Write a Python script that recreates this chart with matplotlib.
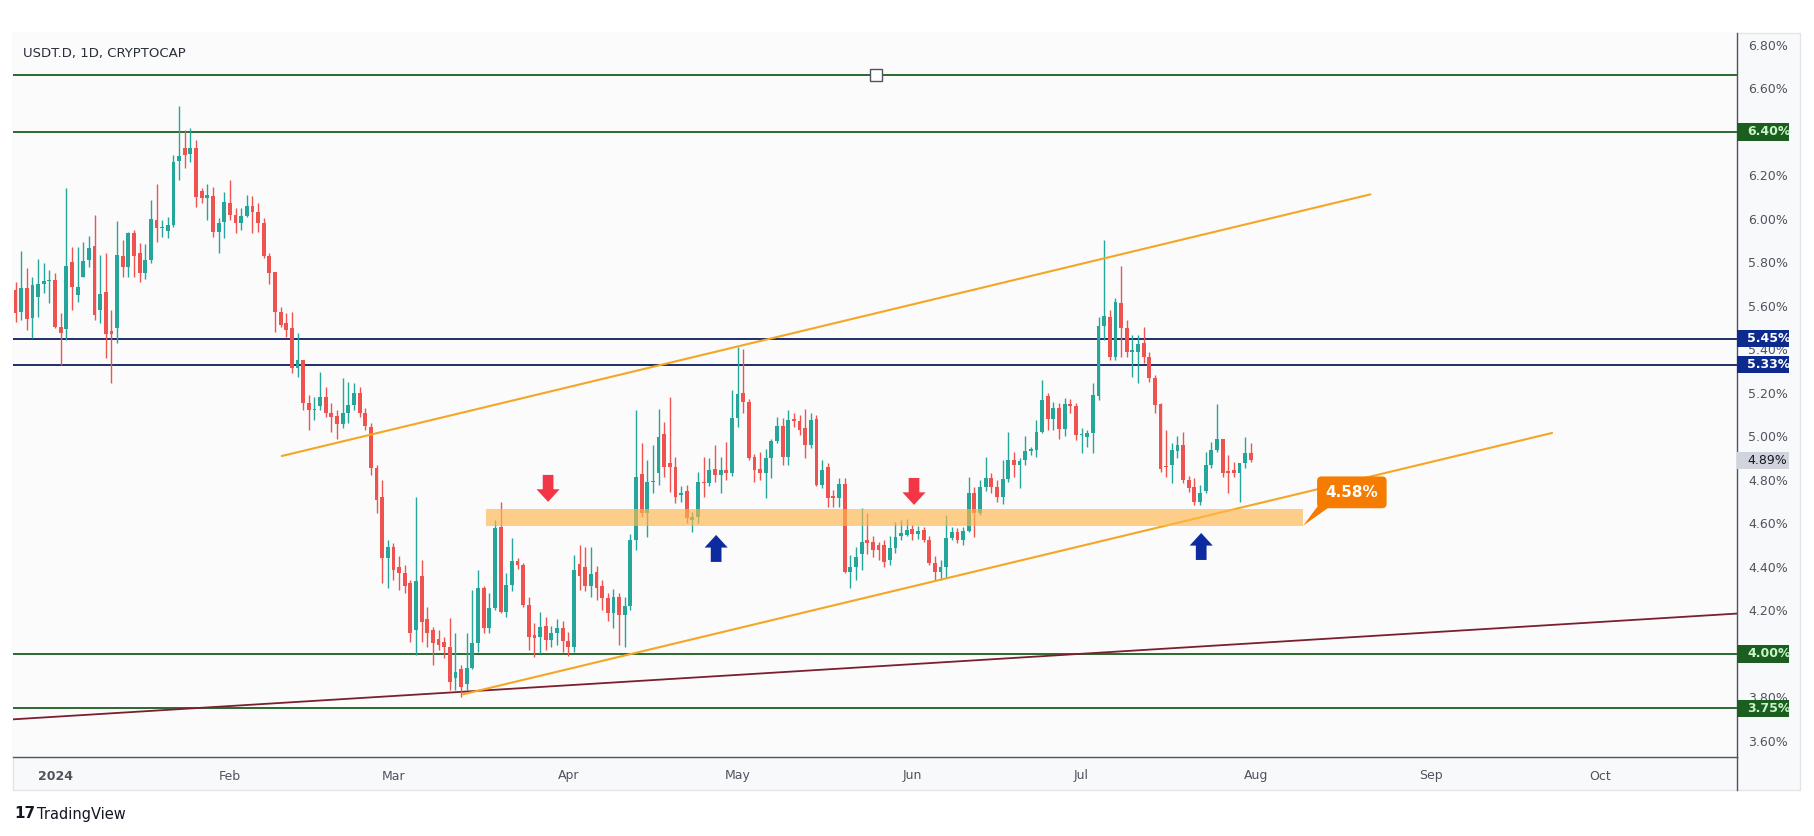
import numpy as np
import pandas as pd
import matplotlib
matplotlib.use('Agg')
import matplotlib.pyplot as plt
from matplotlib.patches import Rectangle, Polygon
from matplotlib.lines import Line2D
from matplotlib.transforms import blended_transform_factory


# daily candles, 2023-12-25 .. 2024-07-31 (values in %)
dates = pd.date_range('2023-12-25', '2024-07-31', freq='D')

opens = [
    5.673, 5.574, 5.681, 5.543, 5.643, 5.701, 5.715, 5.719, 5.505, 5.493,
    5.804, 5.650, 5.735, 5.811, 5.876, 5.581, 5.666, 5.486, 5.497, 5.831,
    5.781, 5.934, 5.842, 5.753, 5.811, 5.995, 5.957, 5.943, 5.971, 6.265,
    6.328, 6.299, 6.325, 6.130, 6.095, 6.106, 5.942, 5.988, 6.075, 6.018,
    5.980, 6.014, 6.061, 6.034, 5.980, 5.830, 5.758, 5.571, 5.520, 5.497,
    5.313, 5.352, 5.152, 5.122, 5.140, 5.180, 5.107, 5.094, 5.058, 5.110,
    5.145, 5.199, 5.107, 5.045, 4.854, 4.720, 4.440, 4.493, 4.400, 4.371,
    4.325, 4.110, 4.356, 4.160, 4.110, 4.070, 4.057, 4.034, 3.888, 3.929,
    3.860, 3.934, 4.049, 4.302, 4.118, 4.210, 4.585, 4.195, 4.317, 4.425,
    4.410, 4.225, 4.087, 4.080, 4.130, 4.064, 4.095, 4.120, 4.060, 4.030,
    4.412, 4.400, 4.310, 4.378, 4.314, 4.256, 4.190, 4.260, 4.180, 4.220,
    4.524, 4.826, 4.647, 4.789, 4.831, 5.010, 4.876, 4.858, 4.730, 4.750,
    4.616, 4.630, 4.792, 4.785, 4.850, 4.823, 4.846, 4.831, 5.083, 5.200,
    5.160, 4.907, 4.850, 4.830, 4.900, 4.979, 5.048, 4.907, 5.076, 5.070,
    5.037, 4.961, 5.080, 4.777, 4.858, 4.724, 4.716, 4.781, 4.378, 4.400,
    4.460, 4.524, 4.516, 4.500, 4.500, 4.432, 4.486, 4.540, 4.547, 4.573,
    4.550, 4.570, 4.524, 4.417, 4.375, 4.400, 4.532, 4.562, 4.524, 4.567,
    4.739, 4.647, 4.766, 4.808, 4.766, 4.723, 4.803, 4.892, 4.869, 4.892,
    4.935, 4.938, 5.022, 5.186, 5.079, 5.130, 5.033, 5.150, 5.140, 5.007,
    4.999, 5.015, 5.187, 5.508, 5.551, 5.367, 5.615, 5.497, 5.390, 5.390,
    5.428, 5.367, 5.267, 5.150, 4.860, 4.869, 4.935, 4.960, 4.800, 4.769,
    4.700, 4.750, 4.869, 4.938, 4.987, 4.843, 4.846, 4.831, 4.877, 4.926,
]
highs = [
    5.712, 5.854, 5.773, 5.735, 5.816, 5.799, 5.765, 5.750, 5.566, 6.144,
    5.873, 5.873, 5.893, 5.923, 6.018, 5.834, 5.842, 5.581, 5.992, 5.903,
    5.942, 5.949, 5.888, 5.885, 6.087, 6.161, 5.995, 6.011, 6.294, 6.521,
    6.409, 6.417, 6.363, 6.141, 6.161, 6.146, 6.003, 6.126, 6.179, 6.049,
    6.049, 6.110, 6.106, 6.075, 6.003, 5.845, 5.758, 5.597, 5.566, 5.571,
    5.474, 5.352, 5.191, 5.183, 5.298, 5.229, 5.152, 5.122, 5.268, 5.252,
    5.244, 5.226, 5.130, 5.060, 4.870, 4.800, 4.524, 4.510, 4.448, 4.410,
    4.340, 4.723, 4.432, 4.218, 4.126, 4.110, 4.080, 4.164, 4.095, 3.950,
    4.095, 4.294, 4.386, 4.310, 4.279, 4.616, 4.700, 4.371, 4.532, 4.440,
    4.420, 4.260, 4.140, 4.195, 4.170, 4.130, 4.160, 4.150, 4.100, 4.455,
    4.500, 4.490, 4.490, 4.405, 4.340, 4.280, 4.300, 4.280, 4.260, 4.550,
    5.122, 4.968, 4.892, 4.960, 5.125, 5.068, 5.183, 4.907, 4.770, 4.777,
    4.654, 4.838, 4.907, 4.900, 4.961, 4.907, 4.976, 5.214, 5.410, 5.400,
    5.170, 4.920, 4.930, 4.940, 4.990, 5.090, 5.083, 5.122, 5.106, 5.100,
    5.125, 5.110, 5.100, 4.892, 4.876, 4.754, 4.808, 4.808, 4.455, 4.490,
    4.670, 4.647, 4.540, 4.516, 4.524, 4.540, 4.608, 4.616, 4.620, 4.594,
    4.590, 4.585, 4.540, 4.450, 4.430, 4.639, 4.585, 4.578, 4.585, 4.815,
    4.769, 4.800, 4.904, 4.830, 4.800, 4.892, 5.022, 4.930, 4.900, 5.000,
    4.950, 5.076, 5.260, 5.198, 5.160, 5.153, 5.175, 5.170, 5.155, 5.040,
    5.030, 5.245, 5.551, 5.903, 5.582, 5.635, 5.784, 5.536, 5.466, 5.466,
    5.505, 5.390, 5.283, 5.153, 5.030, 4.969, 5.000, 5.022, 4.820, 4.808,
    4.777, 4.930, 4.976, 5.149, 4.990, 4.915, 4.884, 4.880, 4.996, 4.970,
]
lows = [
    5.528, 5.536, 5.490, 5.451, 5.551, 5.658, 5.612, 5.500, 5.329, 5.443,
    5.581, 5.620, 5.732, 5.781, 5.536, 5.520, 5.359, 5.244, 5.428, 5.735,
    5.735, 5.735, 5.712, 5.722, 5.796, 5.893, 5.919, 5.911, 5.965, 6.179,
    6.233, 6.263, 6.057, 6.072, 5.995, 5.919, 5.845, 5.911, 5.995, 5.937,
    5.949, 6.008, 5.934, 5.942, 5.819, 5.701, 5.482, 5.502, 5.459, 5.290,
    5.275, 5.122, 5.030, 5.076, 5.122, 5.091, 5.022, 4.987, 5.040, 5.064,
    5.122, 5.091, 5.030, 4.823, 4.647, 4.325, 4.302, 4.340, 4.294, 4.279,
    4.057, 3.995, 4.057, 4.034, 3.949, 4.018, 3.980, 3.835, 3.835, 3.804,
    3.835, 3.930, 4.010, 4.095, 4.095, 4.200, 4.187, 4.172, 4.290, 4.390,
    4.218, 4.018, 3.988, 4.003, 4.018, 4.030, 4.040, 4.010, 3.990, 4.010,
    4.294, 4.290, 4.260, 4.250, 4.200, 4.150, 4.120, 4.040, 4.030, 4.200,
    4.478, 4.630, 4.539, 4.740, 4.777, 4.815, 4.746, 4.693, 4.700, 4.601,
    4.562, 4.600, 4.723, 4.770, 4.790, 4.739, 4.800, 4.820, 5.045, 5.106,
    4.890, 4.792, 4.800, 4.716, 4.808, 4.970, 4.870, 4.870, 5.045, 5.007,
    4.900, 4.946, 4.770, 4.762, 4.677, 4.677, 4.677, 4.370, 4.302, 4.340,
    4.387, 4.460, 4.447, 4.432, 4.400, 4.410, 4.463, 4.524, 4.540, 4.524,
    4.530, 4.516, 4.410, 4.340, 4.340, 4.350, 4.524, 4.510, 4.500, 4.560,
    4.539, 4.640, 4.750, 4.740, 4.700, 4.690, 4.790, 4.815, 4.762, 4.870,
    4.915, 4.907, 5.015, 5.030, 5.030, 4.990, 5.000, 5.110, 4.984, 4.926,
    4.953, 4.923, 5.168, 5.444, 5.352, 5.352, 5.367, 5.367, 5.275, 5.245,
    5.336, 5.252, 5.107, 4.838, 4.815, 4.785, 4.900, 4.785, 4.746, 4.685,
    4.685, 4.740, 4.854, 4.930, 4.815, 4.739, 4.815, 4.700, 4.854, 4.884,
]
closes = [
    5.569, 5.681, 5.539, 5.696, 5.701, 5.715, 5.716, 5.505, 5.474, 5.784,
    5.689, 5.689, 5.807, 5.868, 5.558, 5.654, 5.471, 5.471, 5.834, 5.781,
    5.934, 5.831, 5.753, 5.811, 5.998, 5.957, 5.959, 5.971, 6.263, 6.290,
    6.294, 6.328, 6.103, 6.095, 6.110, 5.942, 5.983, 6.077, 6.018, 5.980,
    6.014, 6.061, 6.034, 5.980, 5.830, 5.753, 5.571, 5.513, 5.490, 5.313,
    5.352, 5.152, 5.122, 5.126, 5.180, 5.107, 5.091, 5.058, 5.110, 5.145,
    5.199, 5.107, 5.048, 4.854, 4.708, 4.440, 4.493, 4.386, 4.371, 4.310,
    4.095, 4.333, 4.149, 4.095, 4.049, 4.041, 4.034, 3.873, 3.918, 3.850,
    3.934, 4.049, 4.302, 4.118, 4.210, 4.578, 4.195, 4.317, 4.425, 4.410,
    4.225, 4.080, 4.072, 4.126, 4.064, 4.095, 4.120, 4.060, 4.030, 4.386,
    4.356, 4.310, 4.368, 4.302, 4.256, 4.190, 4.260, 4.180, 4.220, 4.524,
    4.815, 4.647, 4.789, 4.795, 4.996, 4.861, 4.861, 4.723, 4.741, 4.624,
    4.630, 4.792, 4.785, 4.846, 4.823, 4.846, 4.831, 5.083, 5.195, 5.160,
    4.900, 4.846, 4.830, 4.900, 4.979, 5.048, 4.907, 5.076, 5.072, 5.030,
    4.961, 5.076, 4.777, 4.846, 4.716, 4.716, 4.781, 4.378, 4.400, 4.447,
    4.516, 4.510, 4.478, 4.478, 4.424, 4.486, 4.539, 4.555, 4.570, 4.551,
    4.565, 4.524, 4.417, 4.378, 4.400, 4.532, 4.562, 4.524, 4.567, 4.739,
    4.647, 4.766, 4.808, 4.766, 4.723, 4.803, 4.892, 4.869, 4.887, 4.935,
    4.938, 5.022, 5.168, 5.079, 5.130, 5.033, 5.150, 5.140, 5.007, 5.010,
    5.015, 5.191, 5.508, 5.554, 5.367, 5.620, 5.497, 5.390, 5.397, 5.425,
    5.367, 5.267, 5.145, 4.849, 4.858, 4.938, 4.960, 4.800, 4.762, 4.700,
    4.742, 4.869, 4.938, 4.987, 4.831, 4.831, 4.831, 4.877, 4.926, 4.892,
]

# axis ticks
price_ticks = np.arange(3.60, 6.81, 0.20)
month_starts = pd.date_range('2024-01-01', '2024-10-01', freq='MS')
month_labels = ['2024', 'Feb', 'Mar', 'Apr', 'May', 'Jun', 'Jul', 'Aug', 'Sep', 'Oct']

# drawings on the chart
green_levels = [6.66, 6.40, 4.00, 3.75]
navy_levels = [5.45, 5.33]
upper_channel = [('2024-02-10 05:00', 4.910), ('2024-08-21 05:00', 6.113)]
lower_channel = [('2024-03-13 07:00', 3.814), ('2024-09-22 10:00', 5.016)]
long_trend = [('2024-01-01', 3.711), ('2024-10-01', 4.147)]
zone_span = ('2024-03-17 10:00', '2024-08-09 07:00')
zone_prices = (4.590, 4.667)
red_arrows = [('2024-03-28 10:00', 4.699), ('2024-06-01 07:00', 4.685)]
blue_arrows = [('2024-04-27 05:00', 4.547), ('2024-07-22 05:00', 4.556)]
callout_text = '4.58%'
callout_pos = ('2024-08-17 22:00', 4.743)
handle_pos = ('2024-05-25 14:00', 6.66)
last_price = 4.89

base = pd.Timestamp('2024-01-01')


def day(s):
    return (pd.Timestamp(s) - base) / pd.Timedelta(days=1)


UP, DOWN = '#26a69a', '#ef5350'
W, H = 1815, 836

fig = plt.figure(figsize=(W / 100, H / 100), dpi=100)
fig.patch.set_facecolor('white')
# outer frame of the chart widget
fig.add_artist(Rectangle((13 / W, 1 - 790 / H), 1787 / W, 757 / H, transform=fig.transFigure,
                         fc='#f8f9fb', ec='#e3e5ea', lw=1, zorder=0))

ax = fig.add_axes([13 / W, 1 - 757 / H, 1724 / W, 724 / H])
ax.set_facecolor('#fbfbfc')
ax.set_xlim(-7.45, 298.2)
ax.set_ylim(3.526, 6.855)

x = np.asarray((dates - base).days, dtype=float)
o, h, l, c = map(np.asarray, (opens, highs, lows, closes))
cols = np.where(c >= o, UP, DOWN)
ax.vlines(x, np.minimum(l, np.minimum(o, c)), np.maximum(h, np.maximum(o, c)),
          colors=cols, lw=1, zorder=3)
ax.bar(x, np.maximum(np.abs(c - o), 0.006), bottom=np.minimum(o, c), width=0.68,
       color=cols, lw=0, zorder=4)

# horizontal levels
for lv in green_levels:
    ax.axhline(lv, color='#1b5e20', lw=1.3, zorder=2)
for lv in navy_levels:
    ax.axhline(lv, color='#0b1f5c', lw=1.3, zorder=2)
ax.plot(day(handle_pos[0]), handle_pos[1], marker='s', ms=8, mfc='white', mec='#50535e',
        mew=1, zorder=7)

# trend lines
ax.axline((day(long_trend[0][0]), long_trend[0][1]), (day(long_trend[1][0]), long_trend[1][1]),
          color='#7b1f2e', lw=1.3, zorder=2)
for ch in (upper_channel, lower_channel):
    ax.plot([day(ch[0][0]), day(ch[1][0])], [ch[0][1], ch[1][1]], color='#f5a623', lw=1.5,
            zorder=5, solid_capstyle='round')

# support zone
z0, z1 = day(zone_span[0]), day(zone_span[1])
ax.add_patch(Rectangle((z0, zone_prices[0]), z1 - z0, zone_prices[1] - zone_prices[0],
                       fc='#ffb74d', alpha=0.65, lw=0, zorder=5))


def block_arrow(xc, tip, up, color):
    hw, sw, length, head = 2.05, 0.95, 0.124, 0.058
    s = 1 if up else -1
    neck, tail = tip - s * head, tip - s * length
    pts = [(xc, tip), (xc + hw, neck), (xc + sw, neck), (xc + sw, tail),
           (xc - sw, tail), (xc - sw, neck), (xc - hw, neck)]
    ax.add_patch(Polygon(pts, closed=True, fc=color, ec='none', zorder=6))


for d, p in red_arrows:
    block_arrow(day(d), p, False, '#f23645')
for d, p in blue_arrows:
    block_arrow(day(d), p, True, '#0d2ba0')

# callout label
cx, cy = day(callout_pos[0]), callout_pos[1]
ax.add_patch(Polygon([(z1, zone_prices[0]), (cx - 5.8, cy - 0.055), (cx - 3.3, cy - 0.055)],
                     closed=True, fc='#f57c00', ec='none', zorder=7))
ax.text(cx, cy, callout_text, color='white', fontsize=11, fontweight='bold', ha='center',
        va='center', zorder=8,
        bbox=dict(boxstyle='round,pad=0.55,rounding_size=0.3', fc='#f57c00', ec='none'))

# axes styling
ax.yaxis.tick_right()
ax.set_yticks(price_ticks)
ax.set_yticklabels([f'{v:.2f}%' for v in price_ticks])
ax.set_xticks([day(m) for m in month_starts])
ax.set_xticklabels(month_labels)
ax.get_xticklabels()[0].set_fontweight('bold')
ax.tick_params(axis='y', length=0, pad=8, labelsize=9, labelcolor='#50535e')
ax.tick_params(axis='x', length=0, pad=9, labelsize=9, labelcolor='#50535e')
for side in ('top', 'left'):
    ax.spines[side].set_visible(False)
for side in ('right', 'bottom'):
    ax.spines[side].set_color('#50535e')
    ax.spines[side].set_linewidth(1)
fig.add_artist(Line2D([1737 / W, 1737 / W], [1 - 790 / H, 1 - 757 / H], color='#50535e', lw=1))

# price labels on the scale
tr = blended_transform_factory(ax.transAxes, ax.transData)
labels = [(6.40, '#1b5e20', '#c8f5c8'), (5.45, '#0d2b8e', 'white'), (5.33, '#0d2b8e', 'white'),
          (4.00, '#1b5e20', '#c8f5c8'), (3.75, '#1b5e20', '#c8f5c8'), (last_price, '#d1d4dc', '#131722')]
for p, bg, fg in labels:
    ax.add_patch(Rectangle((1.0, p - 0.04), 52 / 1724, 0.08, transform=tr, fc=bg, ec='none',
                           clip_on=False, zorder=10))
    ax.text(1.0 + 10 / 1724, p, f'{p:.2f}%', transform=tr, color=fg, fontsize=9,
            fontweight='normal' if p == last_price else 'bold', va='center', ha='left',
            clip_on=False, zorder=11)

fig.text(23 / W, 1 - 53 / H, 'USDT.D, 1D, CRYPTOCAP', fontsize=9.5, color='#2a2e39', va='center')
fig.text(14 / W, 1 - 814 / H, '17', fontsize=11, fontweight='heavy', color='#131722', va='center')
fig.text(37 / W, 1 - 814 / H, 'TradingView', fontsize=10.5, color='#131722', va='center')

fig.savefig('out.png', dpi=100)
